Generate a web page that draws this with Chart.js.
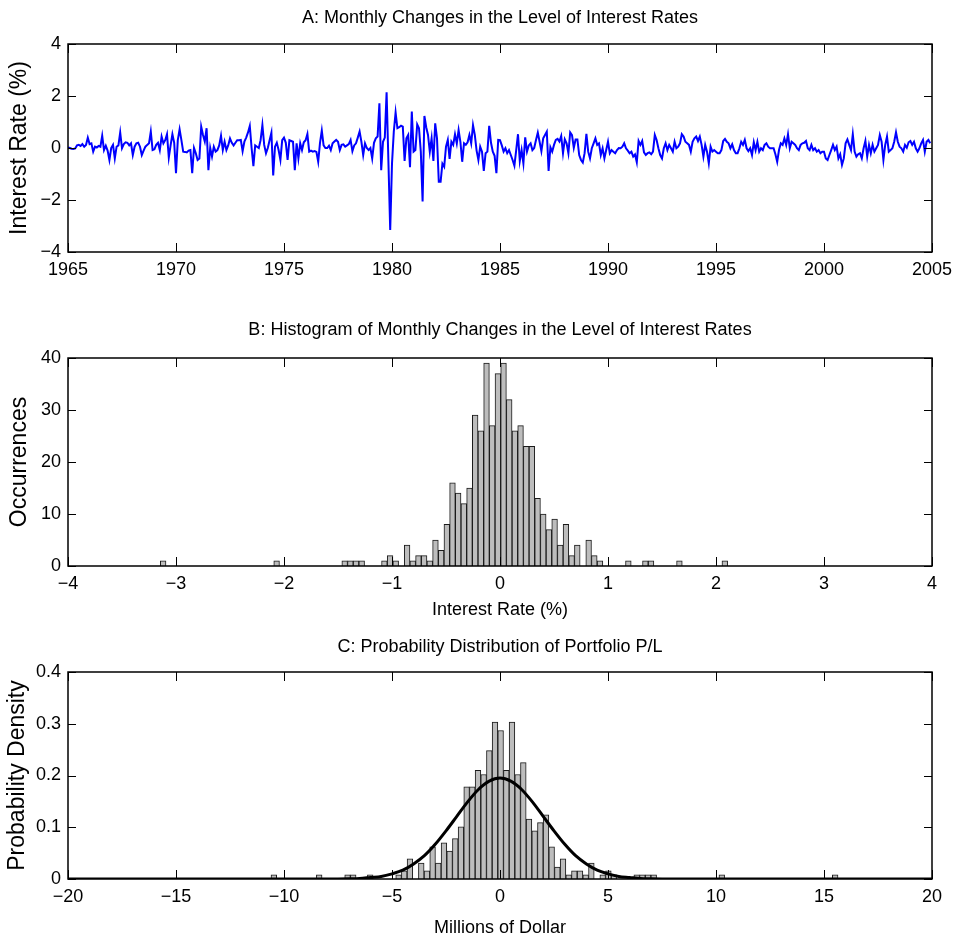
<!DOCTYPE html>
<html>
<head>
<meta charset="utf-8">
<script src="https://cdn.jsdelivr.net/npm/chart.js@4.4.1/dist/chart.umd.min.js"></script>
<style>
body{margin:0;background:#fff;}
#wrap{position:relative;width:954px;height:941px;}
canvas{position:absolute;left:0;}
</style>
</head>
<body>
<div id="wrap">
<canvas id="chartA" width="954" height="290" style="top:0px"></canvas>
<canvas id="chartB" width="954" height="335" style="top:290px"></canvas>
<canvas id="chartC" width="954" height="316" style="top:625px"></canvas>
</div>
<script>
// monthly changes in interest rate level, one row per year, 1965..2004
const START_YEAR = 1965
const rateChanges = [
0.02,0.0,-0.03,-0.04,-0.02,0.1,0.12,0.08,0.15,0.05,0.12,0.4,
0.15,0.18,-0.14,0.05,0.02,0.08,0.05,0.47,-0.08,0.09,-0.1,-0.46,
0.0,0.12,-0.4,0.05,0.1,0.6,-0.01,0.15,0.22,0.2,0.1,0.18,
-0.27,0.05,0.18,0.2,0.05,-0.27,-0.1,0.05,0.12,0.18,0.63,-0.08,
-0.05,0.12,0.2,-0.08,0.44,0.18,0.3,0.53,-0.37,0.1,0.53,0.2,
-0.97,0.3,0.72,0.3,-0.14,-0.15,-0.17,-0.1,-0.08,-0.97,0.0,-0.2,
-0.46,-0.4,0.82,0.5,0.25,0.76,-0.85,0.0,-0.33,0.05,-0.14,-0.08,
0.1,0.47,-0.08,0.24,-0.08,0.1,0.37,0.2,0.1,0.2,0.3,0.3,
0.31,-0.12,0.25,0.4,0.6,0.85,0.0,-0.7,0.1,0.05,0.0,0.3,
0.88,0.12,-0.2,0.0,0.3,0.59,-1.06,0.05,0.2,-0.08,-0.46,0.3,
0.4,0.2,-0.46,0.3,0.27,0.24,-0.85,0.18,-0.4,0.18,-0.08,0.22,
0.3,0.54,-0.14,-0.1,-0.14,-0.12,-0.15,-0.53,0.2,0.67,0.1,0.0,
0.0,0.09,-0.08,0.18,0.25,0.31,0.24,-0.08,0.12,0.14,0.05,0.1,
0.15,0.31,-0.12,0.1,0.18,0.4,0.63,0.24,-0.27,0.18,0.0,-0.08,
0.0,-0.4,0.2,0.37,0.44,1.72,-0.85,0.24,0.4,2.14,-0.5,-3.15,
-0.6,0.63,1.37,0.76,0.8,0.86,0.82,-0.5,0.37,0.5,-0.74,1.4,
-0.14,-0.08,0.91,0.76,-0.14,-2.06,1.23,0.8,0.5,-0.14,0.37,-0.5,
0.95,0.37,-1.3,-1.3,-0.6,-0.72,0.05,0.31,-0.42,0.24,0.12,0.53,
0.18,0.69,0.24,-0.53,0.18,0.12,0.22,0.5,0.18,0.88,0.5,-0.1,
-0.46,0.05,-0.14,-0.88,-0.2,-0.14,0.85,0.2,-0.14,-0.3,-0.97,0.31,
0.3,0.1,-0.14,-0.01,-0.2,-0.08,-0.27,-0.46,-0.68,-0.08,0.53,-0.5,
-0.08,-0.59,0.41,-0.14,0.1,0.18,-0.08,0.0,0.31,0.59,0.24,-0.12,
0.37,0.5,0.63,-0.88,0.03,-0.14,0.12,0.31,0.35,0.25,0.46,-0.2,
0.33,0.18,-0.2,0.6,0.5,0.01,0.33,0.33,-0.27,-0.46,-0.56,-0.2,
0.54,-0.14,-0.4,-0.01,0.18,0.37,0.12,0.18,-0.27,-0.01,-0.4,-0.08,
0.24,-0.2,-0.08,-0.14,-0.2,-0.08,0.0,-0.01,0.05,0.18,-0.01,-0.1,
-0.2,-0.14,-0.33,-0.25,-0.55,0.27,0.12,0.27,-0.17,-0.27,-0.2,-0.17,
-0.24,-0.14,0.5,0.31,-0.01,-0.27,-0.4,-0.01,0.18,-0.08,0.12,-0.01,
-0.14,0.24,-0.01,0.05,0.18,0.53,0.44,0.24,0.18,0.12,-0.14,0.24,
0.37,0.44,0.27,0.44,0.12,-0.33,0.12,-0.14,-0.59,0.05,-0.14,-0.08,
-0.14,-0.2,-0.2,-0.08,0.27,0.35,0.24,0.18,-0.01,0.14,-0.08,-0.2,
-0.2,-0.01,0.24,0.12,0.31,-0.01,-0.12,-0.01,-0.27,0.22,-0.08,0.24,
-0.14,-0.01,-0.08,0.12,0.18,0.05,-0.01,-0.01,-0.01,-0.24,-0.53,-0.08,
0.18,0.12,0.37,0.12,0.53,-0.01,0.24,0.18,0.12,-0.01,-0.08,0.12,
0.18,0.2,0.27,-0.01,-0.08,0.12,-0.08,-0.01,-0.14,-0.08,-0.2,-0.14,
-0.14,-0.4,-0.46,-0.27,-0.08,0.12,-0.08,0.05,-0.4,-0.24,-0.65,-0.4,
0.18,0.33,0.12,-0.08,0.53,-0.14,-0.33,-0.24,-0.2,-0.4,-0.01,0.27,
-0.33,0.12,-0.2,0.12,-0.14,-0.01,0.12,0.5,0.24,-0.46,0.12,0.44,
-0.14,-0.08,-0.01,0.24,0.6,0.24,0.05,-0.01,-0.14,0.12,0.01,0.22,
0.27,0.12,0.24,-0.01,-0.14,-0.01,0.18,0.31,-0.14,0.24,0.31,0.18
]

// histogram of the changes: 100 bins
const RATE_BIN_START = -3.119
const RATE_BIN_WIDTH = 0.05253
const rateCounts = [
1,0,0,0,0,0,0,0,0,0,
0,0,0,0,0,0,0,0,0,0,
1,0,0,0,0,0,0,0,0,0,
0,0,1,1,1,1,0,0,0,1,
2,1,0,4,1,2,2,1,5,3,
8,16,14,12,15,29,26,39,27,37,
39,32,26,27,23,23,13,10,7,9,
4,8,2,4,0,5,2,1,0,0,
0,0,1,0,0,1,1,0,0,0,
0,1,0,0,0,0,0,0,0,1
]

// P/L histogram (density), 100 bins
const PL_BIN_START = -10.47
const PL_BIN_WIDTH = 0.2625
const plDensity = [
0.008,0,0,0,0,0,0,0,0.008,0,
0,0,0,0.008,0.008,0,0,0.008,0,0,
0,0,0.008,0.016,0.039,0,0.031,0.016,0.062,0.031,
0.070,0.054,0.078,0.101,0.178,0.178,0.210,0.202,0.248,0.303,
0.287,0.210,0.303,0.202,0.225,0.116,0.093,0.109,0.124,0.062,
0.023,0.039,0.008,0.016,0.016,0.008,0.031,0,0.008,0.016,
0.008,0,0,0,0.008,0.008,0.008,0.008,0,0,
0,0,0,0,0,0,0,0,0,0.008,
0,0,0,0,0,0,0,0,0,0,
0,0,0,0,0,0,0,0,0,0.008
]

// fitted normal curve
const curveX = [-20,-10,-8,-7.5,-7,-6.5,-6,-5.5,-5,-4.5,-4,-3.5,-3,-2.5,-2,-1.5,-1,-0.5,0,
0.5,1,1.5,2,2.5,3,3.5,4,4.5,5,5.5,6,6.5,7,7.5,8,10,20]
const curveY = [0,0,0,0.0002,0.0005,0.001,0.003,0.005,0.010,0.017,0.029,0.045,0.067,0.093,0.121,0.149,0.173,0.189,0.195,
0.189,0.173,0.149,0.121,0.093,0.067,0.045,0.029,0.017,0.010,0.005,0.003,0.001,0.0005,0.0002,0,0,0]

const FAMILY = "'Liberation Sans', Arial, Helvetica, sans-serif"
const FONT = {family:FAMILY, size:18, weight:'normal'}
const YTITLE_FONT = {family:FAMILY, size:23, weight:'normal'}
Chart.defaults.font.family = FAMILY
Chart.defaults.font.size = 18
Chart.defaults.color = '#000'

const minus = v => String(v).replace('-', '\u2212')

// matlab style box with inward ticks
const boxAxes = {
id:'boxAxes',
afterDatasetsDraw(chart){
const {ctx, chartArea:a, scales:{x, y}} = chart
ctx.save()
ctx.strokeStyle = '#000'
ctx.lineWidth = 1
ctx.beginPath()
x.ticks.forEach(t => {
let p = Math.round(x.getPixelForValue(t.value)) + 0.5
ctx.moveTo(p, a.bottom); ctx.lineTo(p, a.bottom - 9)
ctx.moveTo(p, a.top); ctx.lineTo(p, a.top + 9)
})
y.ticks.forEach(t => {
let p = Math.round(y.getPixelForValue(t.value)) + 0.5
ctx.moveTo(a.left, p); ctx.lineTo(a.left + 8, p)
ctx.moveTo(a.right, p); ctx.lineTo(a.right - 8, p)
})
ctx.stroke()
ctx.lineWidth = 1.5
ctx.strokeRect(a.left, a.top, a.right - a.left, a.bottom - a.top)
ctx.restore()
}
}

function baseOptions(title, titlePad){
return {
responsive:false, animation:false, devicePixelRatio:1,
layout:{padding:{left:0, right:22, top:0, bottom:0}},
plugins:{
legend:{display:false}, tooltip:{enabled:false},
title:{display:true, fullSize:false, text:title, color:'#000', font:FONT, padding:titlePad}
}
}
}

function xScale(min, max, step, h, titleText, titleBottom){
return {
type:'linear', min:min, max:max, offset:false,
grid:{display:false, drawTicks:false}, border:{display:false},
ticks:{stepSize:step, maxRotation:0, padding:7.5, color:'#000', font:FONT, callback:v => minus(v)},
title:{display:!!titleText, text:titleText || '', color:'#000', font:FONT, padding:{top:0, bottom:titleBottom || 0}},
afterFit:s => { s.height = h; s.paddingLeft = 0; s.paddingRight = 0 }
}
}

function yScale(min, max, step, titleText, titleLeft){
return {
min:min, max:max,
grid:{display:false, drawTicks:false}, border:{display:false},
ticks:{stepSize:step, padding:7, color:'#000', font:FONT, callback:v => minus(Math.round(v * 10) / 10)},
title:{display:true, text:titleText, color:'#000', font:YTITLE_FONT, padding:{top:titleLeft, bottom:0}},
afterFit:s => { s.width = 68; s.paddingTop = 0; s.paddingBottom = 0 }
}
}

// A: line
let optA = baseOptions('A: Monthly Changes in the Level of Interest Rates', {top:7.2, bottom:15.2})
optA.scales = {
x:xScale(1965, 2005, 5, 38),
y:yScale(-4, 4, 2, 'Interest Rate (%)', 6)
}
new Chart(document.getElementById('chartA'), {
type:'line',
data:{datasets:[{
data:rateChanges.map((v, i) => ({x:START_YEAR + i / 12, y:v})),
borderColor:'#0000ff', borderWidth:2, pointRadius:0, tension:0
}]},
options:optA,
plugins:[boxAxes]
})

// B: histogram of rate changes
let optB = baseOptions('B: Histogram of Monthly Changes in the Level of Interest Rates', {top:29.2, bottom:17.2})
optB.scales = {
x:xScale(-4, 4, 1, 59, 'Interest Rate (%)', 4.2),
y:yScale(0, 40, 10, 'Occurrences', 6)
}
new Chart(document.getElementById('chartB'), {
type:'bar',
data:{datasets:[{
data:rateCounts.map((c, i) => ({x:RATE_BIN_START + i * RATE_BIN_WIDTH, y:c})),
backgroundColor:'#bdbdbd', borderColor:'#1a1a1a', borderWidth:1,
barPercentage:1, categoryPercentage:1
}]},
options:optB,
plugins:[boxAxes]
})

// C: P/L distribution with normal fit
let optC = baseOptions('C: Probability Distribution of Portfolio P/L', {top:11.2, bottom:14.2})
optC.scales = {
x:xScale(-20, 20, 5, 62, 'Millions of Dollar', 2.2),
y:yScale(0, 0.4, 0.1, 'Probability Density', 4)
}
new Chart(document.getElementById('chartC'), {
type:'bar',
data:{datasets:[
{
type:'line', order:0,
data:curveX.map((x, i) => ({x:x, y:curveY[i]})),
borderColor:'#000', borderWidth:3, pointRadius:0, cubicInterpolationMode:'monotone'
},
{
order:1,
data:plDensity.map((d, i) => ({x:PL_BIN_START + i * PL_BIN_WIDTH, y:d})),
backgroundColor:'#bdbdbd', borderColor:'#1a1a1a', borderWidth:1,
barPercentage:1, categoryPercentage:1
}
]},
options:optC,
plugins:[boxAxes]
})
</script>
</body>
</html>
